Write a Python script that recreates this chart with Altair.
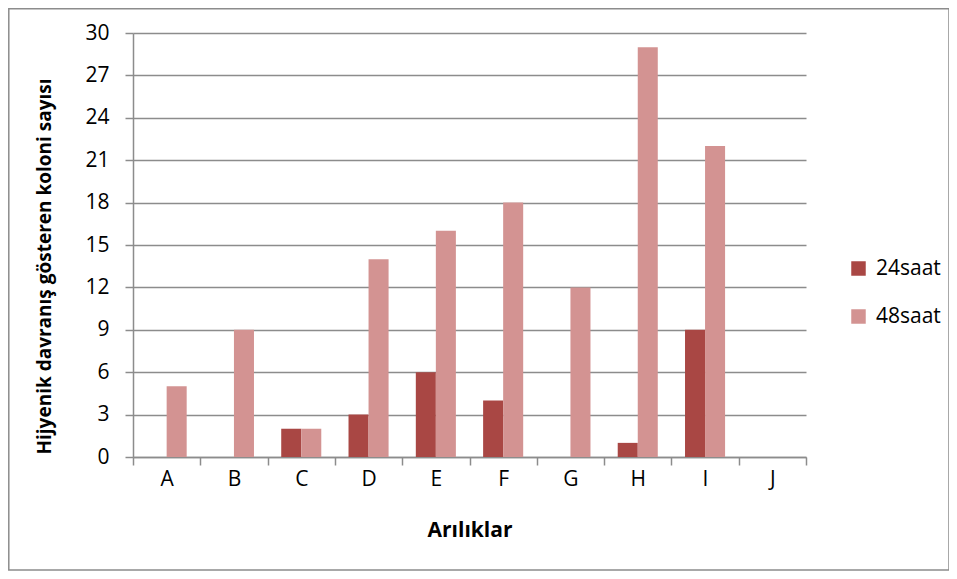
import altair as alt
import pandas as pd

categories = ["A", "B", "C", "D", "E", "F", "G", "H", "I", "J"]
series_24 = [0, 0, 2, 3, 6, 4, 0, 1, 9, 0]
series_48 = [5, 9, 2, 14, 16, 18, 12, 29, 22, 0]
series_names = ["24saat", "48saat"]
colors = ["#A94744", "#D39392"]
y_ticks = list(range(0, 31, 3))

rows = []
for c, a, b in zip(categories, series_24, series_48):
    rows.append({"cat": c, "series": series_names[0], "value": a})
    rows.append({"cat": c, "series": series_names[1], "value": b})
df = pd.DataFrame(rows)

FONT = "Open Sans"
W, H = 673, 424

bars = alt.Chart(df).mark_bar().encode(
    x=alt.X("cat:N", sort=categories,
            scale=alt.Scale(paddingInner=0, paddingOuter=0),
            axis=alt.Axis(title="Arılıklar", labelAngle=0, tickBand="extent",
                          tickSize=8, labelPadding=3, titlePadding=30,
                          titleFontSize=21)),
    xOffset=alt.XOffset("series:N", sort=series_names,
                        scale=alt.Scale(paddingInner=0, paddingOuter=0.68)),
    y=alt.Y("value:Q", scale=alt.Scale(domain=[0, 30], nice=False),
            axis=alt.Axis(title="Hijyenik davranış gösteren koloni sayısı",
                          values=y_ticks, tickSize=8, labelPadding=16,
                          titlePadding=30, grid=True, titleY=233,
                          titleFontSize=19)),
    color=alt.Color("series:N", sort=series_names,
                    scale=alt.Scale(domain=series_names, range=colors),
                    legend=alt.Legend(title=None, orient="none", legendX=715,
                                      legendY=225, symbolType="square",
                                      symbolSize=210, symbolStrokeWidth=0,
                                      labelFontSize=21, labelFont=FONT,
                                      rowPadding=26, labelOffset=7)),
)

border = alt.Chart(pd.DataFrame({"k": [0]})).mark_rect(
    fillOpacity=0, stroke="#8c8c8c", strokeWidth=1.5, clip=False
).encode(
    x=alt.value(-124.2), x2=alt.value(816),
    y=alt.value(-24.2), y2=alt.value(537),
)

chart = alt.layer(border, bars).properties(
    width=W, height=H,
    padding={"left": 125, "top": 25, "right": 143, "bottom": 114},
    autosize=alt.AutoSizeParams(type="none"),
).configure_view(stroke=None).configure_axis(
    labelFont=FONT, titleFont=FONT, labelFontSize=21, titleFontSize=18,
    titleFontWeight="bold", labelColor="#000", titleColor="#000",
    domainColor="#8c8c8c", tickColor="#8c8c8c", gridColor="#8c8c8c",
    domainWidth=1.5, tickWidth=1.5, gridWidth=1.5,
)

chart.save("out.html", embed_options={"renderer": "svg", "actions": False})
